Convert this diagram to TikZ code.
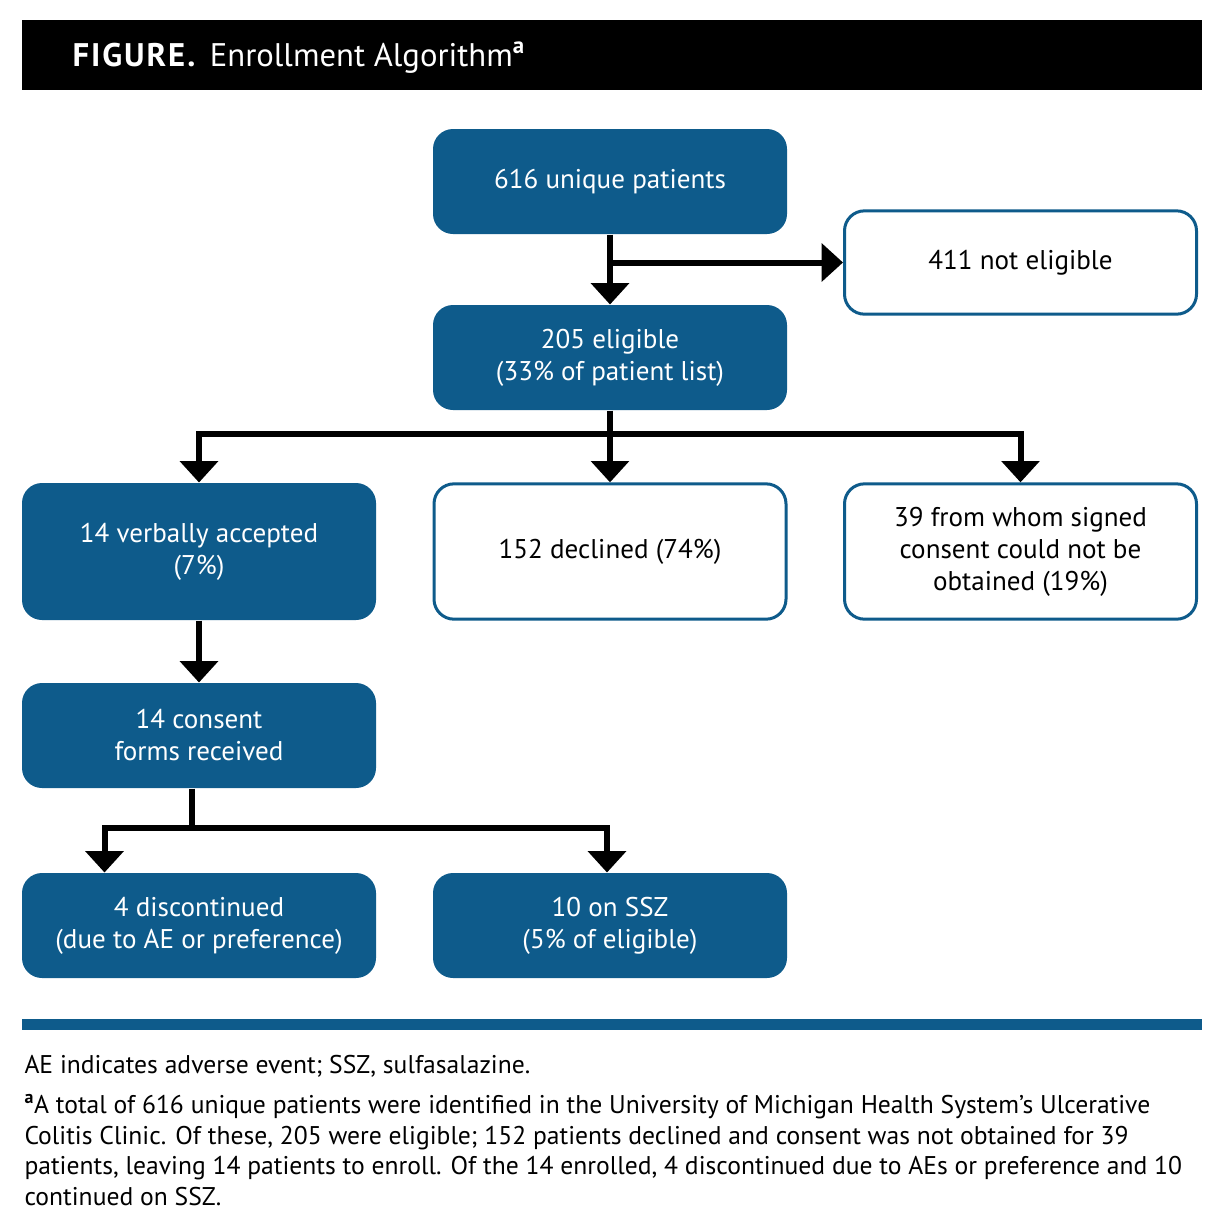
\documentclass[tikz,border=0pt]{standalone}
\usepackage{fontspec}
\setmainfont{PT Sans}
\usetikzlibrary{arrows.meta,calc}

\definecolor{algblue}{RGB}{14,91,139}

\tikzset{every picture/.style={line width=0.75pt}}
\tikzset{
	bluebox/.style={draw=none, fill=algblue, text=white, rounded corners=15pt, minimum width=265.5pt, minimum height=78.75pt, inner sep=0pt, align=center, font=\fontsize{20.3}{24}\selectfont},
	whitebox/.style={draw=algblue, line width=2.25pt, fill=white, text=black, rounded corners=15pt, minimum width=264pt, minimum height=77.5pt, inner sep=0pt, align=center, font=\fontsize{20.3}{24}\selectfont},
	link/.style={line width=4.5pt, line join=miter},
	flow/.style={link, -{Triangle[width=28pt,length=16pt]}}
}

\begin{document}
\begin{tikzpicture}[x=0.75pt,y=0.75pt,yscale=-1,xscale=1]
	%set diagram frame: 1226 x 1222
	\path [use as bounding box] (0,0) rectangle (1226,1222);

	%Shape: Rectangle [header bar]
	\fill [black] (22,20) rectangle (1202,90);
	% Text Node
	\node [anchor=base west, inner sep=0pt, text=white, font=\fontsize{24.5}{28}\selectfont] (title) at (72,66) {{\bfseries\addfontfeature{LetterSpace=6}FIGURE.}\hspace{11pt}Enrollment Algorithm\textsuperscript{\textbf{a}}};

	% Boxes
	\node [bluebox] (patients) at (610,181.5) {616 unique patients};
	\node [whitebox] (noteligible) at (1020.5,262.5) {411 not eligible};
	\node [bluebox] (eligible) at (610,357.5) {205 eligible\\(33\% of patient list)};
	\node [bluebox, minimum height=102.75pt] (verbal) at (199,551.5) {14 verbally accepted\\(7\%)};
	\node [whitebox, minimum height=101.5pt] (declined) at (610,551.5) {152 declined (74\%)};
	\node [whitebox, minimum height=101.5pt] (nosigned) at (1020.5,551.5) {39 from whom signed\\consent could not be\\obtained (19\%)};
	\node [bluebox] (forms) at (199,735.5) {14 consent\\forms received};
	\node [bluebox] (discont) at (199,925.5) {4 discontinued\\(due to AE or preference)};
	\node [bluebox] (onssz) at (610,925.5) {10 on SSZ\\(5\% of eligible)};

	% Connectors
	\draw [flow] (patients.south) -- (eligible.north);
	\draw [flow] (patients.south |- noteligible.west) -- (noteligible.west);

	\coordinate (split1) at (610,434);
	\draw [flow] (eligible.south) -- (declined.north);
	\draw [flow] (split1) -| (verbal.north);
	\draw [flow] (split1) -| (nosigned.north);

	\draw [flow] (verbal.south) -- (forms.north);

	\coordinate (split2) at (192,828);
	\draw [link] (split2 |- forms.south) -- (split2);
	\draw [flow] (split2) -| ($(discont.north west)+(83,0)$);
	\draw [flow] (split2) -| ($(onssz.north)+(-3,0)$);

	%Shape: Rectangle [rule]
	\fill [algblue] (22,1019) rectangle (1202,1030);

	% Text Node
	\node [anchor=base west, inner sep=0pt, font=\fontsize{19.2}{23}\selectfont] (abbrev) at (24,1073) {AE indicates adverse event; SSZ, sulfasalazine.};
	% Text Node
	\node [anchor=north west, inner sep=0pt, align=left, font=\fontsize{19.2}{22.9}\selectfont] (note) at (24,1094) {\textsuperscript{\textbf{a}}A total of 616 unique patients were identified in the University of Michigan Health System's Ulcerative\\Colitis Clinic. Of these, 205 were eligible; 152 patients declined and consent was not obtained for 39\\patients, leaving 14 patients to enroll. Of the 14 enrolled, 4 discontinued due to AEs or preference and 10\\continued on SSZ.};

\end{tikzpicture}
\end{document}
